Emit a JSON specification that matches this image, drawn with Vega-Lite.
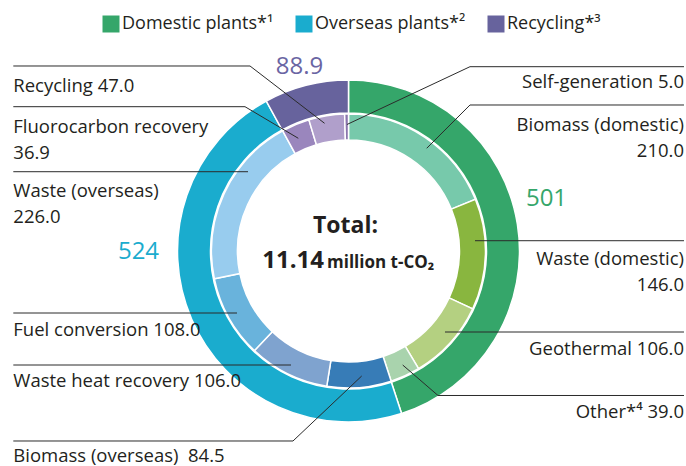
{
  "$schema": "https://vega.github.io/schema/vega-lite/v6.json",
  "width": 675,
  "height": 430,
  "autosize": {"type": "none"},
  "padding": {"left": 11, "top": 36, "right": 0, "bottom": 0},
  "background": "white",
  "config": {"view": {"stroke": null}, "font": "Open Sans"},
  "datasets": {
    "outer": [
      {"group": "Domestic plants*¹", "value": 501, "k": 1},
      {"group": "Overseas plants*²", "value": 524, "k": 2},
      {"group": "Recycling*³", "value": 88.9, "k": 3}
    ],
    "inner": [
      {"item": "Biomass (domestic)", "value": 210, "k": 1},
      {"item": "Waste (domestic)", "value": 146, "k": 2},
      {"item": "Geothermal", "value": 106, "k": 3},
      {"item": "Other", "value": 39, "k": 4},
      {"item": "Biomass (overseas)", "value": 84.5, "k": 5},
      {"item": "Waste heat recovery", "value": 106, "k": 6},
      {"item": "Fuel conversion", "value": 108, "k": 7},
      {"item": "Waste (overseas)", "value": 226, "k": 8},
      {"item": "Fluorocarbon recovery", "value": 36.9, "k": 9},
      {"item": "Recycling", "value": 47, "k": 10},
      {"item": "Self-generation", "value": 5, "k": 11}
    ],
    "labels": [
      {"side": "R", "label": "Self-generation 5.0", "lx": 1.962, "ly": -0.9515},
      {"side": "R", "label": "Biomass (domestic)\n210.0", "lx": 1.962, "ly": -0.7018},
      {"side": "R", "label": "Waste (domestic)\n146.0", "lx": 1.962, "ly": 0.0819},
      {"side": "R", "label": "Geothermal 106.0", "lx": 1.962, "ly": 0.6082},
      {"side": "R", "label": "Other*⁴ 39.0", "lx": 1.962, "ly": 0.9784},
      {"side": "L", "label": "Recycling 47.0", "lx": -1.9602, "ly": -0.9316},
      {"side": "L", "label": "Fluorocarbon recovery\n36.9", "lx": -1.9602, "ly": -0.6883},
      {"side": "L", "label": "Waste (overseas)\n226.0", "lx": -1.9602, "ly": -0.3175},
      {"side": "L", "label": "Fuel conversion 108.0", "lx": -1.9602, "ly": 0.4971},
      {"side": "L", "label": "Waste heat recovery 106.0", "lx": -1.9602, "ly": 0.7971},
      {"side": "L", "label": "Biomass (overseas)\u00a0 84.5", "lx": -1.9602, "ly": 1.2322}
    ],
    "segments": [
      {"xa": 0.7105, "ya": -1.0778, "xb": 1.962, "yb": -1.0778},
      {"xa": 0.7105, "ya": -1.0778, "xb": -0.0088, "yb": -0.7398},
      {"xa": 0.7105, "ya": -0.8538, "xb": 1.962, "yb": -0.8538},
      {"xa": 0.7105, "ya": -0.8538, "xb": 0.4573, "yb": -0.6006},
      {"xa": 0.7398, "ya": -0.0602, "xb": 1.962, "yb": -0.0602},
      {"xa": 0.5643, "ya": 0.4737, "xb": 1.962, "yb": 0.4737},
      {"xa": 0.5234, "ya": 0.845, "xb": 1.962, "yb": 0.845},
      {"xa": 0.5234, "ya": 0.845, "xb": 0.317, "yb": 0.6667},
      {"xa": -1.9602, "ya": -1.0819, "xb": -0.576, "yb": -1.0819},
      {"xa": -0.576, "ya": -1.0819, "xb": -0.14, "yb": -0.7468},
      {"xa": -1.9602, "ya": -0.8439, "xb": -0.6053, "yb": -0.8439},
      {"xa": -0.6053, "ya": -0.8439, "xb": -0.2936, "yb": -0.6591},
      {"xa": -1.9602, "ya": -0.4637, "xb": -0.5877, "yb": -0.4637},
      {"xa": -1.9602, "ya": 0.3626, "xb": -0.652, "yb": 0.3626},
      {"xa": -1.9602, "ya": 0.6667, "xb": -0.3363, "yb": 0.6667},
      {"xa": -1.9602, "ya": 1.1111, "xb": -0.3246, "yb": 1.1111},
      {"xa": -0.3246, "ya": 1.1111, "xb": 0.0772, "yb": 0.731}
    ],
    "totals": [
      {"group": "Domestic plants*¹", "t": "501", "lx": 1.1579, "ly": -0.2632},
      {"group": "Overseas plants*²", "t": "524", "lx": -1.2281, "ly": 0.0468},
      {"group": "Recycling*³", "t": "88.9", "lx": -0.2865, "ly": -1.0351}
    ]
  },
  "layer": [
    {
      "data": {"name": "outer"},
      "mark": {"type": "arc", "radius": 171, "radius2": 138, "stroke": "white", "strokeWidth": 1.5},
      "encoding": {
        "theta": {"field": "value", "type": "quantitative", "stack": true},
        "order": {"field": "k", "type": "quantitative"},
        "color": {
          "field": "group", "type": "nominal",
          "scale": {"domain": ["Domestic plants*¹", "Overseas plants*²", "Recycling*³"], "range": ["#35a66a", "#1aacce", "#67639d"]},
          "legend": {
            "orient": "none", "legendX": 91, "legendY": -21, "direction": "horizontal",
            "symbolType": "square", "symbolSize": 289, "symbolStrokeWidth": 0, "symbolOpacity": 1,
            "labelFontSize": 18, "labelFont": "Open Sans", "labelColor": "#231f20", "labelOffset": 2,
            "columnPadding": 21, "title": null, "padding": 0
          }
        }
      }
    },
    {
      "data": {"name": "inner"},
      "mark": {"type": "arc", "radius": 137, "radius2": 111, "stroke": "white", "strokeWidth": 1.5},
      "encoding": {
        "theta": {"field": "value", "type": "quantitative", "stack": true},
        "order": {"field": "k", "type": "quantitative"},
        "color": {
          "field": "item", "type": "nominal",
          "scale": {
            "domain": ["Biomass (domestic)", "Waste (domestic)", "Geothermal", "Other", "Biomass (overseas)", "Waste heat recovery", "Fuel conversion", "Waste (overseas)", "Fluorocarbon recovery", "Recycling", "Self-generation"],
            "range": ["#77c9ab", "#89b63f", "#b4d081", "#a9d3ad", "#377cb7", "#7fa3cf", "#69b3dc", "#98ccee", "#9a86bd", "#b09fcb", "#8a74ad"]
          },
          "legend": null
        }
      }
    },
    {
      "data": {"name": "segments"},
      "mark": {"type": "rule", "color": "#2b2b2b", "strokeWidth": 1},
      "encoding": {
        "x": {"field": "xa", "type": "quantitative", "scale": {"domain": [-1.9737, 1.9737], "nice": false, "zero": false}, "axis": null},
        "y": {"field": "ya", "type": "quantitative", "scale": {"domain": [-1.2573, 1.2573], "nice": false, "zero": false, "reverse": true}, "axis": null},
        "x2": {"field": "xb"},
        "y2": {"field": "yb"}
      }
    },
    {
      "data": {"name": "labels"},
      "transform": [{"filter": "datum.side === 'R'"}],
      "mark": {"type": "text", "align": "right", "baseline": "alphabetic", "fontSize": 18.5, "font": "Open Sans", "color": "#231f20", "lineBreak": "\n", "lineHeight": 26},
      "encoding": {
        "x": {"field": "lx", "type": "quantitative", "axis": null},
        "y": {"field": "ly", "type": "quantitative", "axis": null},
        "text": {"field": "label"}
      }
    },
    {
      "data": {"name": "labels"},
      "transform": [{"filter": "datum.side === 'L'"}],
      "mark": {"type": "text", "align": "left", "baseline": "alphabetic", "fontSize": 18.5, "font": "Open Sans", "color": "#231f20", "lineBreak": "\n", "lineHeight": 26},
      "encoding": {
        "x": {"field": "lx", "type": "quantitative", "axis": null},
        "y": {"field": "ly", "type": "quantitative", "axis": null},
        "text": {"field": "label"}
      }
    },
    {
      "data": {"name": "totals"},
      "mark": {"type": "text", "align": "center", "baseline": "alphabetic", "fontSize": 24, "font": "Open Sans"},
      "encoding": {
        "x": {"field": "lx", "type": "quantitative", "axis": null},
        "y": {"field": "ly", "type": "quantitative", "axis": null},
        "text": {"field": "t"},
        "color": {
          "field": "group", "type": "nominal",
          "scale": {"domain": ["Domestic plants*¹", "Overseas plants*²", "Recycling*³"], "range": ["#35a66a", "#1aacce", "#6a65a3"]},
          "legend": null
        }
      }
    },
    {
      "data": {"values": [{"t": "Total:", "lx": -0.0175, "ly": -0.1053}]},
      "mark": {"type": "text", "align": "center", "baseline": "alphabetic", "fontSize": 23, "fontWeight": "bold", "font": "Open Sans", "color": "#231f20"},
      "encoding": {
        "x": {"field": "lx", "type": "quantitative", "axis": null},
        "y": {"field": "ly", "type": "quantitative", "axis": null},
        "text": {"field": "t"}
      }
    },
    {
      "data": {"values": [{"t": "11.14", "lx": -0.1433, "ly": 0.0994}]},
      "mark": {"type": "text", "align": "right", "baseline": "alphabetic", "fontSize": 24, "fontWeight": "bold", "font": "Open Sans", "color": "#231f20"},
      "encoding": {
        "x": {"field": "lx", "type": "quantitative", "axis": null},
        "y": {"field": "ly", "type": "quantitative", "axis": null},
        "text": {"field": "t"}
      }
    },
    {
      "data": {"values": [{"t": "million t-CO₂", "lx": -0.1257, "ly": 0.0994}]},
      "mark": {"type": "text", "align": "left", "baseline": "alphabetic", "fontSize": 17, "fontWeight": "bold", "font": "Open Sans", "color": "#231f20"},
      "encoding": {
        "x": {"field": "lx", "type": "quantitative", "axis": null},
        "y": {"field": "ly", "type": "quantitative", "axis": null},
        "text": {"field": "t"}
      }
    }
  ],
  "resolve": {"scale": {"color": "independent", "theta": "independent"}}
}
